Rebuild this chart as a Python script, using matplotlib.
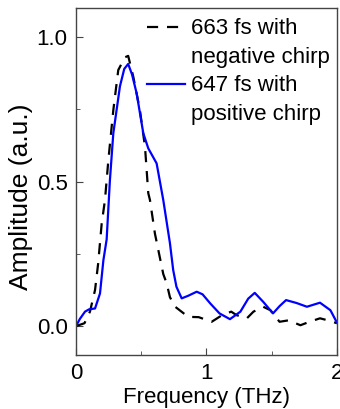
import matplotlib
matplotlib.use('Agg')
import matplotlib.pyplot as plt
from matplotlib.lines import Line2D
from matplotlib.legend_handler import HandlerLine2D
from matplotlib.ticker import MultipleLocator, FormatStrFormatter

plt.rcParams['font.family'] = ['Liberation Sans', 'DejaVu Sans']

# negative chirp (dashed black)
freq_neg = [0.0, 0.02, 0.065, 0.107, 0.146, 0.17, 0.197, 0.222, 0.248, 0.286, 0.324, 0.375, 0.40,
            0.439, 0.49, 0.529, 0.554, 0.567, 0.605, 0.669, 0.695, 0.72, 0.76, 0.86, 0.94, 1.04,
            1.12, 1.19, 1.23, 1.31, 1.36, 1.435, 1.49, 1.56, 1.63, 1.72, 1.79, 1.87, 1.93, 2.0]
amp_neg = [0.0, 0.003, 0.01, 0.05, 0.125, 0.217, 0.355, 0.436, 0.574, 0.747, 0.886, 0.93, 0.935,
           0.863, 0.747, 0.62, 0.46, 0.436, 0.32, 0.18, 0.148, 0.10, 0.067, 0.032, 0.031, 0.015,
           0.038, 0.05, 0.038, 0.027, 0.05, 0.067, 0.055, 0.015, 0.02, 0.003, 0.015, 0.027, 0.02, 0.01]

# positive chirp (solid blue)
freq_pos = [0.0, 0.03, 0.069, 0.1, 0.146, 0.184, 0.21, 0.235, 0.26, 0.286, 0.337, 0.37, 0.40,
            0.43, 0.465, 0.516, 0.554, 0.618, 0.669, 0.72, 0.745, 0.77, 0.81, 0.86, 0.925, 0.97,
            1.03, 1.10, 1.18, 1.26, 1.32, 1.37, 1.435, 1.51, 1.56, 1.61, 1.69, 1.77, 1.87, 1.95, 2.0]
amp_pos = [0.0, 0.025, 0.05, 0.058, 0.061, 0.113, 0.228, 0.3, 0.505, 0.667, 0.83, 0.89, 0.907,
           0.87, 0.805, 0.667, 0.615, 0.563, 0.436, 0.287, 0.194, 0.136, 0.096, 0.105, 0.119, 0.11,
           0.078, 0.044, 0.024, 0.05, 0.095, 0.115, 0.084, 0.044, 0.069, 0.09, 0.08, 0.067, 0.081, 0.055, 0.012]

labels = ['663 fs with\nnegative chirp', '647 fs with\npositive chirp']


class TopLineHandler(HandlerLine2D):
    # put the legend line next to the first text line, not the middle
    def create_artists(self, legend, orig_handle, xdescent, ydescent, width, height, fontsize, trans):
        arts = super().create_artists(legend, orig_handle, xdescent, ydescent,
                                      width, height, fontsize, trans)
        for a in arts:
            a.set_ydata([y + 0.75 * fontsize for y in a.get_ydata()])
        return arts


fig = plt.figure(figsize=(3.4, 4.09), dpi=100)
ax = fig.add_axes([0.2235, 0.132, 0.7675, 0.848])

ax.plot(freq_neg, amp_neg, color='k', lw=1.6, ls=(0, (5, 4)), label=labels[0])
ax.plot(freq_pos, amp_pos, color='#0000ff', lw=1.6, label=labels[1])

ax.set_xlim(0, 2)
ax.set_ylim(-0.1, 1.1)
ax.xaxis.set_major_locator(MultipleLocator(1))
ax.xaxis.set_minor_locator(MultipleLocator(0.5))
ax.yaxis.set_major_locator(MultipleLocator(0.5))
ax.yaxis.set_minor_locator(MultipleLocator(0.25))
ax.xaxis.set_major_formatter(FormatStrFormatter('%d'))
ax.yaxis.set_major_formatter(FormatStrFormatter('%.1f'))
ax.tick_params(which='both', direction='in', labelsize=16, color='#444444', pad=6)
ax.tick_params(which='major', length=5)
ax.tick_params(which='minor', length=3)
for s in ax.spines.values():
    s.set_color('#444444')
    s.set_linewidth(1.0)

ax.set_xlabel('Frequency (THz)', fontsize=16, labelpad=2)
ax.set_ylabel('Amplitude (a.u.)', fontsize=19)
ax.yaxis.set_label_coords(-0.165, 0.455)

leg = ax.legend(loc='upper right', frameon=False, fontsize=16, handlelength=1.7,
                handletextpad=0.3, borderaxespad=0.0, borderpad=0.3, labelspacing=0.3,
                bbox_to_anchor=(1.0, 0.99), handler_map={Line2D: TopLineHandler()})
for t in leg.get_texts():
    t.set_linespacing(1.5)

fig.savefig('out.png', dpi=100)
